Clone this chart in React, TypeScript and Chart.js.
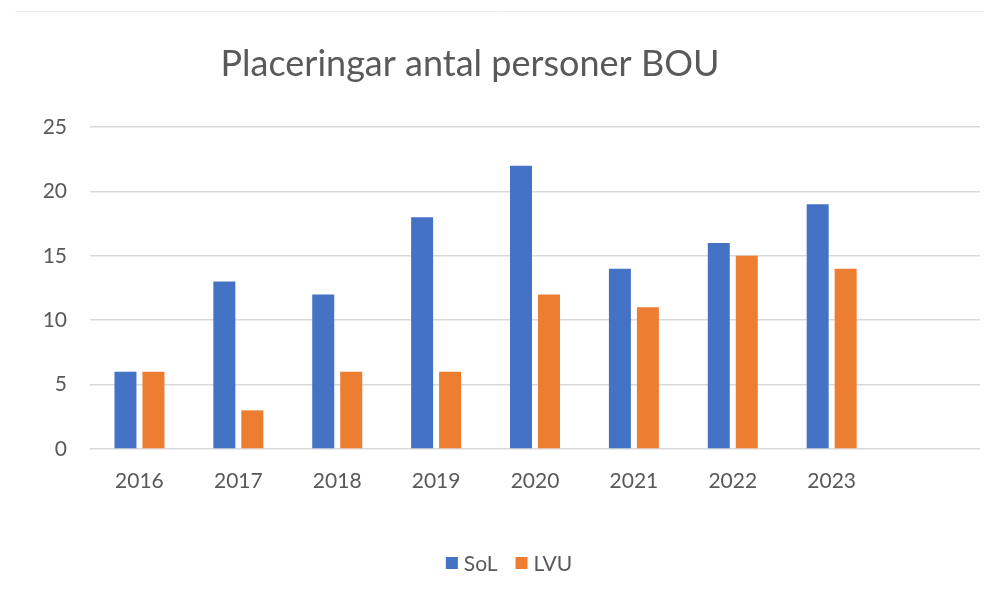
import React, { useEffect, useRef } from "react";
import { Chart, registerables } from "chart.js";

Chart.register(...registerables);

const categories = ["2016", "2017", "2018", "2019", "2020", "2021", "2022", "2023", ""];
const solValues = [6, 13, 12, 18, 22, 14, 16, 19, null];
const lvuValues = [6, 3, 6, 6, 12, 11, 15, 14, null];
const yTicks = [0, 5, 10, 15, 20, 25];
const titleText = "Placeringar antal personer BOU";
const seriesNames = ["SoL", "LVU"];
const seriesColors = ["#4472C4", "#ED7D31"];

const FONT = "Lato, 'Open Sans', sans-serif";

const overlayPlugin = {
  id: "overlay",
  afterDraw(chart: any) {
    const ctx = chart.ctx;
    ctx.save();
    // faint top frame line
    ctx.strokeStyle = "#eeeeee";
    ctx.lineWidth = 1;
    ctx.beginPath();
    ctx.moveTo(7, 3.5);
    ctx.lineTo(chart.width, 3.5);
    ctx.stroke();
    // title
    ctx.fillStyle = "#595959";
    ctx.font = `36px ${FONT}`;
    ctx.textAlign = "center";
    ctx.textBaseline = "alphabetic";
    ctx.fillText(titleText, 462, 68);
    // legend
    ctx.font = `21px ${FONT}`;
    ctx.textAlign = "left";
    ctx.textBaseline = "middle";
    const y = 555;
    const items = seriesNames.map((n, i) => ({ n, c: seriesColors[i], w: ctx.measureText(n).width }));
    const box = 12;
    const gapBox = 6;
    const gapItem = 18;
    let total = 0;
    items.forEach((it, i) => {
      total += box + gapBox + it.w + (i < items.length - 1 ? gapItem : 0);
    });
    let x = 501 - total / 2;
    items.forEach((it) => {
      ctx.fillStyle = it.c;
      ctx.fillRect(x, y - box / 2, box, box);
      x += box + gapBox;
      ctx.fillStyle = "#595959";
      ctx.fillText(it.n, x, y + 1);
      x += it.w + gapItem;
    });
    ctx.restore();
  },
};

export default function App() {
  const ref = useRef<HTMLCanvasElement | null>(null);
  useEffect(() => {
    if (!ref.current) return;
    const chart = new Chart(ref.current, {
      type: "bar",
      data: {
        labels: categories,
        datasets: [
          {
            label: seriesNames[0],
            data: solValues,
            backgroundColor: seriesColors[0],
            categoryPercentage: 0.566,
            barPercentage: 0.786,
          },
          {
            label: seriesNames[1],
            data: lvuValues,
            backgroundColor: seriesColors[1],
            categoryPercentage: 0.566,
            barPercentage: 0.786,
          },
        ],
      },
      options: {
        responsive: false,
        animation: false,
        layout: { padding: { top: 119, bottom: 88, right: 4, left: 0 } },
        plugins: {
          legend: { display: false },
          title: { display: false },
          tooltip: { enabled: false },
        },
        scales: {
          x: {
            afterFit: (s: any) => {
              s.height = 50;
            },
            grid: { display: false, drawTicks: false },
            border: { display: false },
            ticks: {
              color: "#595959",
              font: { family: FONT, size: 21 },
              padding: 20,
              maxRotation: 0,
            },
          },
          y: {
            min: 0,
            max: 25,
            afterFit: (s: any) => {
              s.width = 82;
            },
            afterBuildTicks: (s: any) => {
              s.ticks = yTicks.map((v) => ({ value: v }));
            },
            grid: { color: "#d9d9d9", lineWidth: 1.5, drawTicks: false },
            border: { display: false },
            ticks: {
              color: "#595959",
              font: { family: FONT, size: 21 },
              padding: 23,
            },
          },
        },
      },
      plugins: [overlayPlugin],
    });
    return () => chart.destroy();
  }, []);
  return (
    <div style={{ width: 976, height: 579, position: "relative" }}>
      <canvas ref={ref} width={976} height={579} style={{ display: "block" }} />
    </div>
  );
}
